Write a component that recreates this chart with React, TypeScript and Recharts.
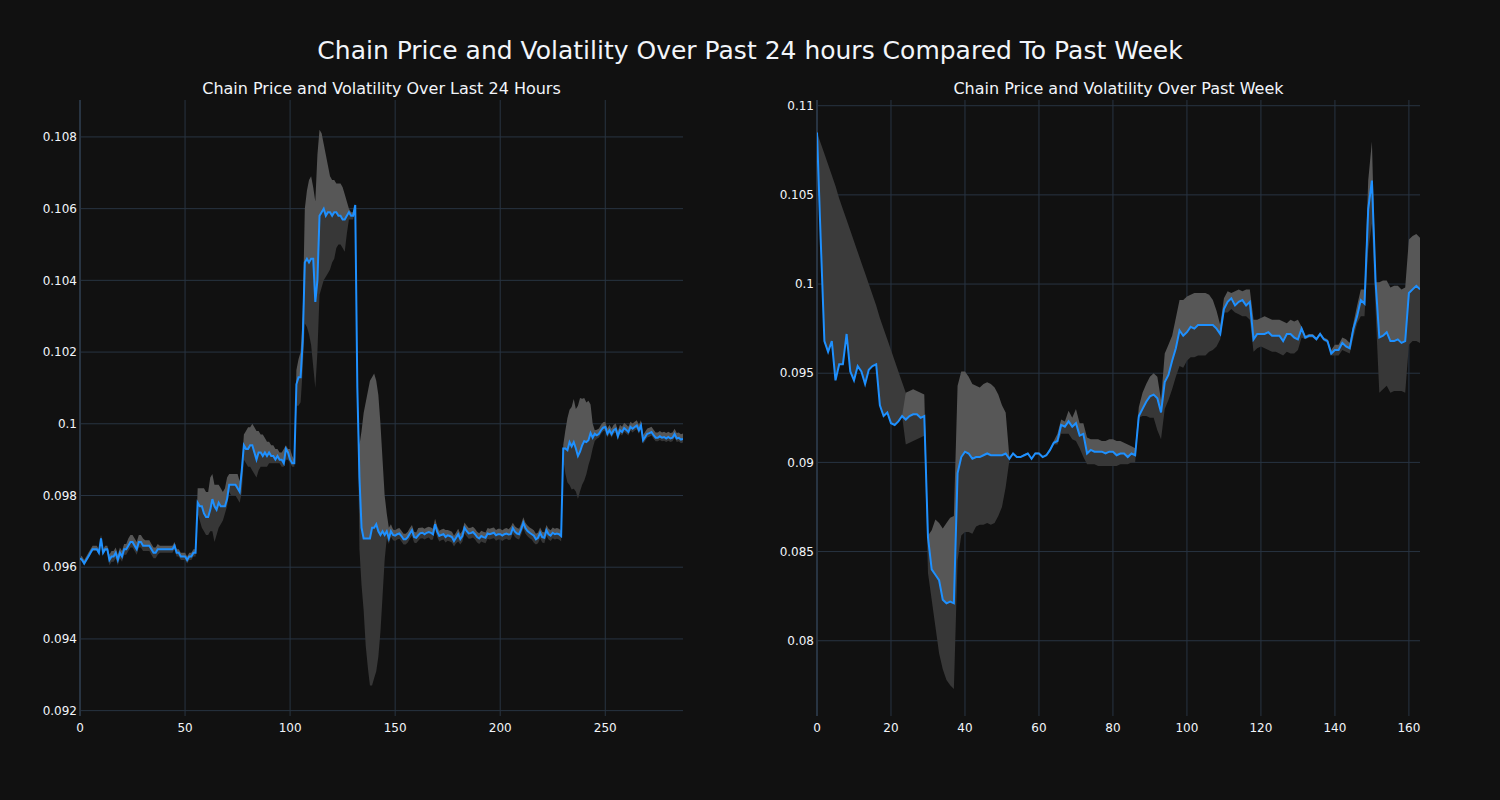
import React from "react";
import {
  ComposedChart,
  Area,
  Line,
  XAxis,
  YAxis,
  CartesianGrid,
  ReferenceLine,
} from "recharts";

// price every 5 minutes over the last 24 hours
const dayPrice = [
  0.09625, 0.0962, 0.0961, 0.0962, 0.0963, 0.0964, 0.0965, 0.0965, 0.0965, 0.0964,
  0.0968, 0.0964, 0.0965, 0.0965, 0.0962, 0.0963, 0.0963, 0.0964, 0.0962, 0.0964,
  0.0963, 0.0965, 0.0965, 0.0966, 0.0967, 0.0967, 0.0966, 0.0965, 0.0967, 0.0967,
  0.0966, 0.0966, 0.0966, 0.0966, 0.0965, 0.0964, 0.0964, 0.0965, 0.0965, 0.0965,
  0.0965, 0.0965, 0.0965, 0.0965, 0.0965, 0.0966, 0.0964, 0.0964, 0.0963, 0.0963,
  0.0963, 0.0962, 0.0963, 0.0963, 0.0964, 0.0964, 0.0978, 0.0977, 0.0977, 0.0975,
  0.0974, 0.0974, 0.0976, 0.0979, 0.0977, 0.0976, 0.0978, 0.0977, 0.0977, 0.0977,
  0.0979, 0.0983, 0.0983, 0.0983, 0.0983, 0.0982, 0.0981, 0.0987, 0.0994, 0.0993,
  0.0993, 0.0994, 0.0994, 0.0992, 0.099, 0.0992, 0.0992, 0.0991, 0.0992, 0.0991,
  0.0992, 0.0991, 0.0991, 0.099, 0.0991, 0.099, 0.099, 0.0989, 0.0993, 0.0992,
  0.099, 0.0989, 0.0989, 0.1011, 0.1013, 0.1013, 0.1023, 0.1045, 0.1046, 0.1045,
  0.1046, 0.1046, 0.1034, 0.104, 0.1058, 0.1059, 0.106, 0.1058, 0.1059, 0.1059,
  0.1058, 0.1059, 0.1059, 0.1058, 0.1058, 0.1057, 0.1057, 0.1058, 0.1059, 0.1058,
  0.1058, 0.1061, 0.101, 0.0985, 0.0971, 0.0968, 0.0968, 0.0968, 0.0968, 0.0971,
  0.0971, 0.0972, 0.097, 0.0969, 0.097, 0.0969, 0.097, 0.0968, 0.097, 0.0969,
  0.09688, 0.09692, 0.09694, 0.09687, 0.09678, 0.09678, 0.09684, 0.09694, 0.09703, 0.09684,
  0.09682, 0.09689, 0.09695, 0.09696, 0.09692, 0.09696, 0.09698, 0.09696, 0.09692, 0.0972,
  0.09699, 0.09687, 0.0969, 0.09692, 0.09684, 0.09689, 0.09687, 0.09684, 0.09673, 0.09682,
  0.09692, 0.09678, 0.09687, 0.0971, 0.09701, 0.09694, 0.09695, 0.09698, 0.09692, 0.09684,
  0.0968, 0.09687, 0.09684, 0.09682, 0.09694, 0.09692, 0.09694, 0.09696, 0.09689, 0.09692,
  0.09692, 0.09688, 0.09692, 0.09694, 0.09691, 0.09692, 0.09709, 0.09699, 0.09694, 0.09692,
  0.09706, 0.09724, 0.09709, 0.09701, 0.09696, 0.09692, 0.09688, 0.09678, 0.09682, 0.09696,
  0.09684, 0.09682, 0.09703, 0.09692, 0.09688, 0.09696, 0.09692, 0.09694, 0.09692, 0.09687,
  0.09931, 0.09931, 0.09926, 0.09949, 0.09937, 0.09949, 0.09931, 0.0991, 0.09922, 0.0994,
  0.09952, 0.09949, 0.09954, 0.09974, 0.09961, 0.09972, 0.09968, 0.09972, 0.09982, 0.09989,
  0.09991, 0.09972, 0.09982, 0.09971, 0.09982, 0.09986, 0.09965, 0.09982, 0.09977, 0.09988,
  0.09983, 0.09977, 0.09991, 0.09986, 0.09991, 0.09995, 0.09982, 0.09995, 0.09954, 0.09963,
  0.09972, 0.09974, 0.09977, 0.09968, 0.09961, 0.09961, 0.09965, 0.09961, 0.09963, 0.09959,
  0.09963, 0.09959, 0.09961, 0.09971, 0.09959, 0.09961, 0.09956, 0.09958,
];

// volatility band above / below the price, in units of 0.0001
const dayUp = [
  1, 1, 1, 1, 1, 1, 1, 1, 1, 1, 1, 1, 1, 1,
  1.5, 1.5, 1.5, 1.5, 1.5, 1.5, 1.5, 1.5, 1.5,
  2, 2, 2, 2, 2, 2, 2, 2,
  1.5, 1.5, 1.5, 1.5, 1.5, 1.5, 1.5,
  1, 1, 1, 1, 1, 1, 1, 1, 1, 1, 1, 1, 1, 1, 1, 1, 1, 1,
  4, 5, 5, 7, 7, 7, 9, 7, 6, 7, 5, 5, 4, 5, 6, 3, 3, 3, 3, 4, 3, 1,
  3, 5, 6, 5, 6, 7, 8, 6, 5, 6, 4, 4, 3, 3, 3, 3, 2, 2, 2, 4, 1, 1, 3, 2, 1,
  4, 5, 7, 7, 15, 19, 23, 23, 20, 28, 35, 24, 22, 18, 17, 13, 10, 10, 9, 8, 9, 9, 9, 7, 4, 1, 1, 1, 0,
  0, 9, 27, 35, 38, 41, 44, 42, 43, 40, 38, 31, 20, 11, 5, 3, 2,
  1.5, 1.5, 1.5, 1.5, 1.5, 1.5, 1.5, 1.5, 1.5, 1.5,
  1.5, 1.5, 2, 1.5, 1.5, 1.5, 1.5, 1.5, 1.5, 1.5,
  1.5, 1.5, 1.5, 1.5, 1.5, 2, 1.5, 1.5, 1.5, 1.5,
  1.5, 1.5, 1.5, 1.5, 1.5, 1.5, 1.5, 1.5, 1.5, 1.5,
  1.5, 1.5, 1.5, 1.5, 1.5, 1.5, 1.5, 1.5, 1.5, 1.5,
  1.5, 1.5, 1.5, 1.5, 1.5, 1.5, 2, 1.5, 1.5, 1.5,
  1.5, 1.5, 1.5, 1.5, 1.5, 1.5, 1.5, 1.5, 1.5, 1.5,
  1.5, 1.5, 1.5, 1.5, 1.5, 1.5, 1.5, 1.5, 1.5, 1.5,
  1.5,
  1, 5, 9, 9, 11, 12, 11, 14, 15, 13, 12, 11, 11, 8, 4, 1,
  1.5, 1.5, 1.5, 1.5, 1.5, 1.5, 1.5, 1.5, 1.5, 1.5,
  1.5, 1.5, 1.5, 1.5, 1.5, 1.5, 1.5, 1.5, 1.5, 1.5,
  1.5, 1.5, 1.5, 1.5, 1.5, 1.5, 1.5, 1.5, 1.5, 1.5,
  1.5, 1.5, 1.5, 1.5, 1.5, 1.5, 1.5, 1.5, 1.5, 1.5,
  1.5, 1.5,
];

const dayDown = [
  0.5, 0.5, 0.5, 0.5, 0.5, 0.5, 0.5, 0.5, 0.5, 0.5, 0.5, 0.5, 0.5, 0.5,
  1.5, 1.5, 1.5, 1.5, 1.5, 1.5, 1.5, 1.5, 1.5,
  1.5, 1.5, 1.5, 1.5, 1.5, 1.5, 1.5, 1.5,
  1.5, 1.5, 1.5, 1.5, 1.5, 1.5, 1.5,
  1, 1, 1, 1, 1, 1, 1, 1, 1, 1, 1, 1, 1, 1, 1, 1, 1, 1,
  3, 4, 6, 5, 5, 5, 6, 9, 10, 7, 7, 5, 4, 2, 2, 2, 3, 3, 3, 3, 3, 6,
  4, 4, 5, 6, 7, 6, 5, 5, 4, 3, 4, 3, 3, 2, 2, 1, 2, 1, 2, 1, 3, 2, 1, 1, 1,
  6, 8, 7, 8, 17, 19, 20, 24, 30, 24, 20, 22, 21, 20, 17, 17, 16, 13, 13, 10, 8, 8, 8, 9, 5, 2, 1, 1, 1,
  0, 20, 16, 20, 30, 36, 41, 44, 42, 41, 35, 27, 18, 7, 2, 1.5, 1.5,
  1.5, 1.5, 1.5, 1.5, 1.5, 1.5, 1.5, 1.5, 1.5, 1.5,
  1.5, 1.5, 1.5, 1.5, 1.5, 1.5, 1.5, 1.5, 2, 1.5,
  1.5, 1.5, 1.5, 1.5, 1.5, 1.5, 1.5, 1.5, 1.5, 1.5,
  1.5, 2, 1.5, 1.5, 1.5, 1.5, 1.5, 1.5, 1.5, 1.5,
  1.5, 1.5, 1.5, 1.5, 1.5, 1.5, 1.5, 1.5, 1.5, 1.5,
  1.5, 1.5, 1.5, 1.5, 1.5, 1.5, 1.5, 1.5, 1.5, 1.5,
  1.5, 1.5, 1.5, 1.5, 1.5, 1.5, 1.5, 2, 1.5, 1.5,
  1.5, 1.5, 1.5, 1.5, 1.5, 1.5, 1.5, 1.5, 1.5, 1.5,
  1.5,
  3, 7, 9, 12, 12, 13, 12, 12, 11, 11, 11, 9, 7, 7, 3, 2,
  1, 1, 1, 1, 1, 1, 1, 1, 1, 1,
  1, 1, 1, 1, 1, 1, 1, 1, 1, 1,
  1, 1, 1, 1, 1, 1, 1, 1, 1, 1,
  1, 1, 1, 1, 1, 1, 1, 1, 1, 1,
  1, 1,
];

// hourly price over the past week
const weekPrice = [
  0.1085, 0.1025, 0.0968, 0.0962, 0.0968, 0.0946, 0.0955, 0.0955, 0.0972, 0.0951,
  0.0946, 0.0954, 0.0951, 0.0944, 0.0952, 0.0954, 0.0955, 0.0932, 0.0926, 0.0928,
  0.0922, 0.0921, 0.0923, 0.0926, 0.0924, 0.0926, 0.0927, 0.0927, 0.0925, 0.0926,
  0.0858, 0.084, 0.0837, 0.0834, 0.0823, 0.0821, 0.0822, 0.0821, 0.0894, 0.0903,
  0.0906, 0.0905, 0.0902, 0.0903, 0.0903, 0.0904, 0.0905, 0.0904, 0.0904, 0.0904,
  0.0904, 0.0905, 0.0902, 0.0905, 0.0903, 0.0903, 0.0904, 0.0905, 0.0902, 0.0905,
  0.0905, 0.0903, 0.0904, 0.0907, 0.0911, 0.0912, 0.0921, 0.092, 0.0923, 0.092,
  0.0922, 0.0915, 0.0916, 0.0905, 0.0907, 0.0906, 0.0906, 0.0906, 0.0905, 0.0906,
  0.0906, 0.0904, 0.0905, 0.0905, 0.0903, 0.0905, 0.0904, 0.0926, 0.093, 0.0934,
  0.0937, 0.0938, 0.0936, 0.0928, 0.0945, 0.0949, 0.0957, 0.0964, 0.0974, 0.0971,
  0.0973, 0.0976, 0.0975, 0.0977, 0.0977, 0.0977, 0.0977, 0.0977, 0.0975, 0.0972,
  0.0986, 0.099, 0.0992, 0.0988, 0.099, 0.0991, 0.0988, 0.099, 0.0969, 0.0972,
  0.0972, 0.0972, 0.0973, 0.0971, 0.0971, 0.0971, 0.0968, 0.0972, 0.0972, 0.097,
  0.0969, 0.0975, 0.097, 0.0971, 0.0971, 0.0969, 0.0972, 0.0969, 0.0968, 0.0961,
  0.0963, 0.0963, 0.0967, 0.0965, 0.0964, 0.0975, 0.0982, 0.0991, 0.0989, 0.1042,
  0.1058, 0.1001, 0.097, 0.0971, 0.0973, 0.0968, 0.0968, 0.0969, 0.0967, 0.0968,
  0.0995, 0.0997, 0.0999, 0.0997,
];

const weekUp = [
  0, 0, 0, 0, 0, 0, 0, 0, 0, 0, 0, 0, 0, 0, 0, 0, 0, 0, 0, 0, 0, 0, 0, 0,
  15, 14, 14, 13, 14, 12,
  1, 22, 31, 32, 40, 45, 47, 49,
  49, 48, 45, 43, 42, 40, 39, 40, 40, 40, 38, 34, 28, 23, 1,
  0.5, 0.5, 0.5, 0.5, 0.5, 0.5, 0.5, 0.5, 0.5, 0.5,
  1, 1, 4, 3, 3, 6, 5, 8, 7, 6,
  9, 6, 7, 7, 6, 7, 7, 7, 8, 7, 6, 7, 4, 4,
  5, 9, 10, 11, 12, 12, 7, 16, 17, 14, 17, 17, 20, 20, 18, 20, 18, 18, 18, 17, 14, 10, 5,
  6, 6, 3, 8, 7, 5, 9, 7,
  11, 8, 9, 10, 8, 9, 9, 9, 11, 6, 8, 9, 11, 1,
  1, 1, 1, 1, 1, 1, 1,
  2, 3, 3, 3, 4, 3, 3, 6, 6, 8,
  16, 22, 0,
  31, 31, 29, 30, 31, 30, 30, 30, 30, 30, 29, 29,
];

const weekDown = [
  0, 0, 0, 0, 0, 0, 0, 0, 0, 0, 0, 0, 0, 0, 0, 0, 0, 0, 0, 0, 0, 0, 0, 0,
  14, 15, 15, 14, 11, 11,
  20, 17, 29, 41, 39, 43, 47, 48,
  49, 44, 45, 44, 42, 39, 38, 39, 39, 39, 38, 34, 29, 19, 1,
  0.5, 0.5, 0.5, 0.5, 0.5, 0.5, 0.5, 0.5, 0.5, 0.5,
  1, 1, 2, 5, 4, 7, 7, 10, 7, 13,
  6, 8, 7, 8, 8, 7, 8, 8, 6, 6, 6, 4, 5, 4,
  1, 4, 8, 12, 13, 18, 15, 15, 14, 16, 16, 20, 18, 16, 17, 16, 17, 17, 17, 15, 14, 10, 3,
  2, 6, 6, 4, 7, 9, 6, 10,
  7, 8, 7, 8, 10, 9, 9, 10, 8, 10, 11, 9, 6, 5,
  1, 1, 1, 1, 1, 1, 1,
  1, 3, 3, 4, 3, 3, 5, 4, 9, 7,
  23, 24, 16,
  31, 30, 30, 29, 28, 29, 27, 29, 29, 29, 31, 30,
];

// upper edge of the band for the first hours, before the rolling window fills
const weekEarlyTop = [
  0.1085, 0.1079, 0.1073, 0.1067, 0.1061, 0.1055, 0.1048, 0.1042, 0.1036, 0.103,
  0.1024, 0.1018, 0.1012, 0.1006, 0.1, 0.0994, 0.0988, 0.0981, 0.0975, 0.0969,
  0.0963, 0.0957, 0.0951, 0.0945, 0.0939,
];

const dayTicksX = [0, 50, 100, 150, 200, 250];
const dayTicksY = [0.092, 0.094, 0.096, 0.098, 0.1, 0.102, 0.104, 0.106, 0.108];
const weekTicksX = [0, 20, 40, 60, 80, 100, 120, 140, 160];
const weekTicksY = [0.08, 0.085, 0.09, 0.095, 0.1, 0.105, 0.11];

const BG = "#111111";
const GRID = "#283442";
const TEXT = "#f2f5fa";
const FONT = "DejaVu Sans";

const buildRows = (price: number[], up: number[], down: number[], early: number[] = []) =>
  price.map((p, i) => ({
    x: i,
    price: p,
    hi: [p, p + up[i] * 1e-4],
    lo: [p - down[i] * 1e-4, p],
    early: i < early.length ? [p, early[i]] : [p, p],
  }));

const dayRows = buildRows(dayPrice, dayUp, dayDown);
const weekRows = buildRows(weekPrice, weekUp, weekDown, weekEarlyTop);

interface PanelProps {
  rows: ReturnType<typeof buildRows>;
  left: number;
  margin: { top: number; right: number; bottom: number; left: number };
  xMax: number;
  xTicks: number[];
  yDomain: [number, number];
  yTicks: number[];
}

const Panel: React.FC<PanelProps> = ({ rows, left, margin, xMax, xTicks, yDomain, yTicks }) => {
  const tick = { fill: TEXT, fontSize: 12, fontFamily: FONT };
  return (
    <div style={{ position: "absolute", left, top: 0 }}>
      <ComposedChart width={700} height={800} data={rows} margin={margin}>
        <CartesianGrid stroke={GRID} strokeWidth={1} syncWithTicks />
        <XAxis
          dataKey="x"
          type="number"
          domain={[0, xMax]}
          ticks={xTicks}
          axisLine={false}
          tickLine={false}
          tickSize={0}
          tickMargin={7}
          height={30}
          tick={tick}
          allowDataOverflow
        />
        <YAxis
          type="number"
          domain={yDomain}
          ticks={yTicks}
          axisLine={false}
          tickLine={false}
          tickSize={0}
          tickMargin={3}
          width={60}
          tick={tick}
          allowDataOverflow
        />
        <ReferenceLine x={0} stroke={GRID} strokeWidth={2} />
        <Area
          dataKey="early"
          type="linear"
          stroke="none"
          fill="#3b3b3b"
          fillOpacity={1}
          dot={false}
          activeDot={false}
          isAnimationActive={false}
        />
        <Area
          dataKey="lo"
          type="linear"
          stroke="none"
          fill="#373737"
          fillOpacity={1}
          dot={false}
          activeDot={false}
          isAnimationActive={false}
        />
        <Area
          dataKey="hi"
          type="linear"
          stroke="none"
          fill="#575757"
          fillOpacity={1}
          dot={false}
          activeDot={false}
          isAnimationActive={false}
        />
        <Line
          dataKey="price"
          type="linear"
          stroke="#1e90ff"
          strokeWidth={2}
          dot={false}
          activeDot={false}
          isAnimationActive={false}
        />
      </ComposedChart>
    </div>
  );
};

export default function App() {
  return (
    <div
      style={{
        position: "fixed",
        left: 0,
        top: 0,
        width: 1500,
        height: 800,
        background: BG,
        overflow: "hidden",
      }}
    >
      <Panel
        rows={dayRows}
        left={0}
        margin={{ top: 100, right: 17, bottom: 54, left: 20 }}
        xMax={287}
        xTicks={dayTicksX}
        yDomain={[0.09185, 0.10903]}
        yTicks={dayTicksY}
      />
      <Panel
        rows={weekRows}
        left={740}
        margin={{ top: 100, right: 20, bottom: 54, left: 17 }}
        xMax={163}
        xTicks={weekTicksX}
        yDomain={[0.07578, 0.11032]}
        yTicks={weekTicksY}
      />
      <svg
        width={1500}
        height={100}
        style={{ position: "absolute", left: 0, top: 0, pointerEvents: "none" }}
      >
        <text x={750} y={59} textAnchor="middle" fill={TEXT} fontSize={25} fontFamily={FONT}>
          Chain Price and Volatility Over Past 24 hours Compared To Past Week
        </text>
        <text x={381.5} y={94} textAnchor="middle" fill={TEXT} fontSize={16} fontFamily={FONT}>
          Chain Price and Volatility Over Last 24 Hours
        </text>
        <text x={1118.5} y={94} textAnchor="middle" fill={TEXT} fontSize={16} fontFamily={FONT}>
          Chain Price and Volatility Over Past Week
        </text>
      </svg>
    </div>
  );
}
